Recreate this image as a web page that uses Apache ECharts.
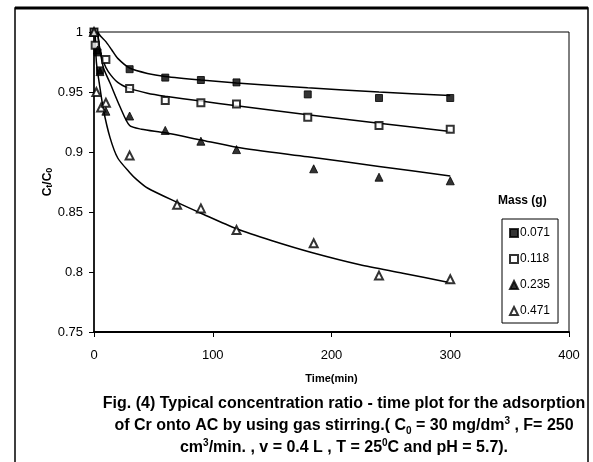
<!DOCTYPE html>
<html>
<head>
<meta charset="utf-8">
<script src="https://cdn.jsdelivr.net/npm/echarts@6/dist/echarts.min.js"></script>
<style>
html,body{margin:0;padding:0;background:#fff;}
#c{width:593px;height:462px;}
</style>
</head>
<body>
<div id="c"></div>
<script>
// ---- data ----
const seriesNames = ['0.071', '0.118', '0.235', '0.471'];
const xTicks = [0, 100, 200, 300, 400];
const yTicks = [0.75, 0.8, 0.85, 0.9, 0.95, 1];

const t071 = [0, 3, 5, 30, 60, 90, 120, 180, 240, 300];
const v071 = [1.000, 0.983, 0.968, 0.969, 0.962, 0.960, 0.958, 0.948, 0.945, 0.945];
const t118 = [0, 1, 10, 30, 60, 90, 120, 180, 240, 300];
const v118 = [1.000, 0.989, 0.977, 0.953, 0.943, 0.941, 0.940, 0.929, 0.922, 0.919];
const t235 = [0, 3, 5, 10, 30, 60, 90, 120, 185, 240, 300];
const v235 = [1.000, 0.985, 0.967, 0.934, 0.930, 0.918, 0.909, 0.902, 0.886, 0.879, 0.876];
const t471 = [0, 2, 6, 10, 30, 70, 90, 120, 185, 240, 300];
const v471 = [1.000, 0.950, 0.937, 0.941, 0.897, 0.856, 0.853, 0.835, 0.824, 0.797, 0.794];

// fitted trend curves
const ft071 = [3, 6, 10, 15, 20, 30, 45, 60, 90, 120, 180, 240, 300];
const fv071 = [1.000, 0.996, 0.992, 0.985, 0.978, 0.970, 0.9655, 0.963, 0.960, 0.9575, 0.9535, 0.950, 0.947];
const ft118 = [3, 5, 8, 12, 20, 30, 45, 60, 90, 120, 180, 240, 300];
const fv118 = [1.000, 0.985, 0.975, 0.967, 0.958, 0.953, 0.949, 0.9465, 0.9425, 0.9385, 0.931, 0.924, 0.917];
const ft235 = [3, 5, 8, 13.5, 22, 30, 40, 60, 90, 120, 180, 240, 300];
const fv235 = [1.000, 0.985, 0.970, 0.9575, 0.9375, 0.922, 0.919, 0.916, 0.910, 0.904, 0.896, 0.888, 0.880];
const ft471 = [1, 2, 4.5, 8, 13.5, 20, 30, 36, 45, 70, 90, 120, 150, 184, 224, 260, 300];
const fv471 = [1.000, 0.975, 0.957, 0.935, 0.912, 0.895, 0.883, 0.877, 0.870, 0.858, 0.849, 0.836, 0.826, 0.816, 0.806, 0.799, 0.791];

const captionLines = [
  'Fig. (4) Typical concentration ratio - time plot for the adsorption',
  'of Cr onto AC by using gas stirring.( C{sub|0} = 30 mg/dm{sup|3} , F= 250',
  'cm{sup|3}/min. , v = 0.4 L , T = 25{sup|0}C and pH = 5.7).'
];

// ---- build ----
const zip = (t, v) => t.map((x, i) => [x, v[i]]);
const FONT = "'Liberation Sans', Arial, sans-serif";
const NARROW = "'Liberation Sans Narrow', 'Arial Narrow', 'Liberation Sans', sans-serif";

const markerStyles = [
  {symbol: 'rect', symbolSize: 7, itemStyle: {color: '#000', borderColor: '#000', borderWidth: 1}},
  {symbol: 'rect', symbolSize: 7, itemStyle: {color: '#fff', borderColor: '#000', borderWidth: 2}},
  {symbol: 'triangle', symbolSize: 8, itemStyle: {color: '#000', borderColor: '#000', borderWidth: 1}},
  {symbol: 'triangle', symbolSize: 8, itemStyle: {color: '#fff', borderColor: '#000', borderWidth: 2}}
];
const scatterData = [zip(t071, v071), zip(t118, v118), zip(t235, v235), zip(t471, v471)];
const fitData = [zip(ft071, fv071), zip(ft118, fv118), zip(ft235, fv235), zip(ft471, fv471)];

const series = [];
fitData.forEach((d, i) => {
  series.push({
    type: 'line', name: 'fit' + i, data: d, showSymbol: false, smooth: 0.25,
    lineStyle: {color: '#000', width: 1.5}, silent: true, z: 2
  });
});
scatterData.forEach((d, i) => {
  series.push(Object.assign({type: 'scatter', name: seriesNames[i], data: d, z: 3}, markerStyles[i]));
});

const subRich = {
  sub: {fontSize: 10, fontWeight: 'bold', fontFamily: NARROW, verticalAlign: 'bottom', lineHeight: 12},
  sup: {fontSize: 10, fontWeight: 'bold', fontFamily: NARROW, verticalAlign: 'top', lineHeight: 12}
};

const chart = echarts.init(document.getElementById('c'), null, {renderer: 'canvas'});
chart.setOption({
  backgroundColor: '#fff',
  animation: false,
  grid: {left: 94, right: 24, top: 32, bottom: 130, show: true, borderColor: '#000', borderWidth: 1, backgroundColor: 'transparent'},
  xAxis: {
    type: 'value', min: xTicks[0], max: xTicks[xTicks.length - 1], interval: 100,
    name: 'Time(min)', nameLocation: 'middle', nameGap: 41,
    nameTextStyle: {fontFamily: FONT, fontWeight: 'bold', fontSize: 11, color: '#000'},
    axisLine: {lineStyle: {color: '#000', width: 2}},
    axisTick: {show: true, length: 5, lineStyle: {color: '#000'}},
    axisLabel: {fontFamily: FONT, fontSize: 13, color: '#000', margin: 17},
    splitLine: {show: false}
  },
  yAxis: {
    type: 'value', min: yTicks[0], max: yTicks[yTicks.length - 1], interval: 0.05,
    name: 'C{sub|t}/C{sub|0}', nameLocation: 'middle', nameGap: 40, nameRotate: 90, nameMoveOverlap: false,
    nameTextStyle: {fontFamily: FONT, fontWeight: 'bold', fontSize: 12, color: '#000',
      rich: {sub: {fontSize: 9, fontWeight: 'bold', fontFamily: FONT, verticalAlign: 'bottom', lineHeight: 10}}},
    axisLine: {lineStyle: {color: '#000', width: 1.5}},
    axisTick: {show: true, length: 5, lineStyle: {color: '#000'}},
    axisLabel: {fontFamily: FONT, fontSize: 13, color: '#000', margin: 11,
      formatter: v => String(Math.round(v * 100) / 100)},
    splitLine: {show: false}
  },
  legend: {
    data: seriesNames, orient: 'vertical', left: 502, top: 219,
    itemWidth: 8, itemHeight: 8, itemGap: 14,
    padding: [8, 8, 6, 7], borderColor: '#000', borderWidth: 1, backgroundColor: '#fff',
    textStyle: {fontFamily: FONT, fontSize: 12, color: '#000', padding: [0, 0, 0, -3]}
  },
  graphic: [
    {type: 'rect', shape: {x: 15, y: 8, width: 573, height: 470}, style: {fill: 'none', stroke: '#000', lineWidth: 1.5}, silent: true},
    {type: 'line', shape: {x1: 15, y1: 8, x2: 588, y2: 8}, style: {stroke: '#000', lineWidth: 3}, silent: true},
    {type: 'text', left: 498, top: 195, style: {text: 'Mass (g)', fontFamily: FONT, fontWeight: 'bold', fontSize: 12, fill: '#000'}},
    ...captionLines.map((line, i) => ({
      type: 'text', x: 344, y: 404 + i * 22,
      style: {text: line, rich: subRich, fontFamily: NARROW, fontWeight: 'bold', fontSize: 16, lineHeight: 20,
        fill: '#000', align: 'center', verticalAlign: 'middle'}
    }))
  ],
  series: series
});
</script>
</body>
</html>
